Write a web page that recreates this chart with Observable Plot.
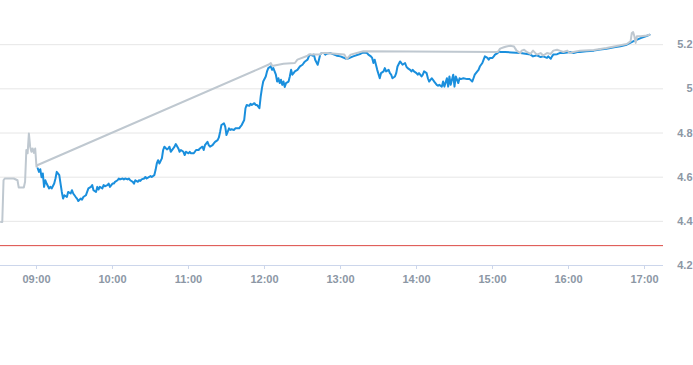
<!DOCTYPE html>
<html><head><meta charset="utf-8">
<script src="https://cdn.jsdelivr.net/npm/d3@7"></script>
<script src="https://cdn.jsdelivr.net/npm/@observablehq/plot@0.6"></script>
<style>html,body{margin:0;padding:0;background:#fff;}</style>
</head><body><div id="chart"></div>
<script>
const xTickLabels = ["09:00","10:00","11:00","12:00","13:00","14:00","15:00","16:00","17:00"];
const yTickValues = [4.2, 4.4, 4.6, 4.8, 5.0, 5.2];
const referenceLevel = 4.29;

const bluePoints = [
["09:01",4.640],["09:02",4.624],["09:03",4.636],["09:04",4.600],["09:05",4.617],["09:06",4.556],["09:07",4.586],["09:08",4.571],
["09:10",4.549],["09:11",4.556],["09:12",4.549],["09:14",4.571],["09:15",4.594],["09:16",4.624],["09:18",4.609],["09:19",4.571],
["09:20",4.533],["09:21",4.503],["09:22",4.518],["09:24",4.510],["09:25",4.533],["09:27",4.526],["09:28",4.541],["09:29",4.526],
["09:31",4.510],["09:32",4.503],["09:33",4.492],["09:35",4.503],["09:36",4.498],["09:37",4.510],["09:39",4.518],["09:40",4.533],
["09:41",4.549],["09:43",4.556],["09:44",4.564],["09:45",4.541],["09:47",4.533],["09:48",4.556],["09:49",4.544],["09:50",4.556],
["09:52",4.549],["09:53",4.564],["09:54",4.559],["09:56",4.564],["09:57",4.571],["09:58",4.556],["10:00",4.571],["10:01",4.571],
["10:02",4.579],["10:04",4.586],["10:05",4.594],["10:06",4.590],["10:08",4.594],["10:09",4.590],["10:10",4.594],["10:12",4.590],
["10:13",4.594],["10:14",4.586],["10:16",4.579],["10:17",4.571],["10:18",4.586],["10:20",4.579],["10:21",4.586],["10:22",4.583],
["10:23",4.590],["10:25",4.594],["10:26",4.601],["10:27",4.594],["10:29",4.601],["10:30",4.605],["10:31",4.601],["10:33",4.609],
["10:34",4.632],["10:35",4.662],["10:36",4.677],["10:37",4.662],["10:39",4.685],["10:40",4.723],["10:41",4.738],["10:43",4.726],
["10:44",4.730],["10:45",4.738],["10:46",4.715],["10:48",4.730],["10:49",4.738],["10:50",4.750],["10:52",4.730],["10:53",4.715],
["10:54",4.723],["10:56",4.715],["10:57",4.700],["10:58",4.715],["11:00",4.708],["11:01",4.715],["11:02",4.708],["11:04",4.708],
["11:05",4.715],["11:06",4.723],["11:08",4.723],["11:09",4.730],["11:11",4.738],["11:12",4.723],["11:13",4.745],["11:15",4.760],
["11:16",4.745],["11:17",4.738],["11:19",4.745],["11:20",4.753],["11:21",4.760],["11:23",4.768],["11:24",4.780],["11:25",4.806],
["11:26",4.836],["11:28",4.844],["11:29",4.829],["11:30",4.791],["11:32",4.821],["11:33",4.814],["11:34",4.817],["11:36",4.814],
["11:37",4.821],["11:38",4.821],["11:40",4.821],["11:41",4.829],["11:42",4.836],["11:44",4.859],["11:45",4.912],["11:46",4.927],
["11:48",4.923],["11:49",4.932],["11:50",4.927],["11:52",4.935],["11:53",4.927],["11:54",4.927],["11:55",4.920],["11:56",4.912],
["11:57",4.965],["11:58",5.003],["11:59",5.033],["12:01",5.056],["12:02",5.079],["12:03",5.094],["12:05",5.102],["12:06",5.086],
["12:07",5.094],["12:09",5.064],["12:10",5.033],["12:11",5.048],["12:12",5.026],["12:13",5.041],["12:14",5.018],["12:15",5.033],
["12:16",5.008],["12:17",5.026],["12:19",5.033],["12:20",5.056],["12:21",5.086],["12:22",5.064],["12:23",5.071],["12:24",5.079],
["12:26",5.086],["12:27",5.094],["12:28",5.102],["12:30",5.109],["12:31",5.117],["12:32",5.124],["12:34",5.132],["12:35",5.147],
["12:36",5.155],["12:38",5.150],["12:39",5.155],["12:40",5.132],["12:42",5.109],["12:43",5.132],["12:44",5.155],["12:45",5.162],
["12:47",5.162],["12:48",5.155],["12:49",5.159],["12:52",5.162],["12:55",5.155],["12:57",5.150],["13:00",5.147],["13:05",5.135],
["13:10",5.147],["13:16",5.159],["13:18",5.165],["13:21",5.162],["13:22",5.155],["13:24",5.147],["13:25",5.140],["13:26",5.117],
["13:27",5.132],["13:28",5.109],["13:29",5.086],["13:31",5.048],["13:32",5.071],["13:34",5.079],["13:35",5.094],["13:36",5.079],
["13:38",5.086],["13:39",5.071],["13:40",5.064],["13:41",5.048],["13:43",5.056],["13:44",5.071],["13:45",5.101],["13:47",5.124],
["13:48",5.117],["13:49",5.109],["13:51",5.117],["13:52",5.101],["13:53",5.094],["13:55",5.086],["13:56",5.079],["13:57",5.086],
["13:58",5.079],["14:00",5.071],["14:01",5.064],["14:02",5.071],["14:04",5.056],["14:05",5.064],["14:06",5.079],["14:08",5.071],
["14:09",5.048],["14:10",5.033],["14:12",5.048],["14:13",5.041],["14:14",5.033],["14:16",5.018],["14:17",5.014],["14:18",5.018],
["14:20",5.010],["14:21",5.033],["14:22",5.010],["14:24",5.048],["14:25",5.010],["14:26",5.056],["14:27",5.018],["14:29",5.064],
["14:30",5.010],["14:31",5.056],["14:33",5.026],["14:34",5.048],["14:35",5.044],["14:37",5.048],["14:40",5.044],["14:42",5.044],
["14:44",5.033],["14:45",5.048],["14:46",5.064],["14:48",5.079],["14:49",5.086],["14:50",5.101],["14:52",5.117],["14:53",5.132],
["14:54",5.147],["14:56",5.140],["14:57",5.132],["14:58",5.140],["15:00",5.140],["15:01",5.147],["15:02",5.155],["15:04",5.162],
["15:05",5.170],["15:06",5.167],["15:10",5.167],["15:15",5.165],["15:22",5.162],["15:30",5.155],["15:32",5.147],["15:35",5.152],
["15:38",5.144],["15:40",5.147],["15:43",5.140],["15:44",5.147],["15:46",5.136],["15:47",5.147],["15:48",5.155],["15:51",5.157],
["15:53",5.162],["15:56",5.162],["15:59",5.165],["16:01",5.167],["16:04",5.162],["16:07",5.167],["16:09",5.167],["16:14",5.170],
["16:20",5.173],["16:25",5.178],["16:30",5.182],["16:36",5.188],["16:41",5.193],["16:46",5.200],["16:51",5.215],["16:57",5.230],
["17:01",5.238],["17:04",5.245]
];

const greyPoints = [
["08:32",4.397],["08:33",4.397],["08:34",4.586],["08:35",4.594],["08:42",4.594],["08:45",4.586],["08:46",4.553],["08:50",4.553],
["08:51",4.579],["08:52",4.723],["08:53",4.708],["08:54",4.798],["08:55",4.738],["08:56",4.715],["08:57",4.730],["08:58",4.710],
["08:59",4.730],["09:00",4.647],["09:01",4.655],["12:03",5.109],["12:05",5.117],["12:06",5.105],["12:07",5.105],["12:15",5.114],
["12:24",5.117],["12:26",5.132],["12:34",5.150],["12:35",5.155],["12:44",5.155],["12:45",5.162],["12:49",5.162],["13:03",5.155],
["13:05",5.135],["13:08",5.155],["13:18",5.170],["15:04",5.167],["15:05",5.173],["15:06",5.182],["15:09",5.188],["15:11",5.192],
["15:14",5.195],["15:17",5.192],["15:18",5.182],["15:19",5.173],["15:22",5.162],["15:23",5.173],["15:25",5.177],["15:27",5.167],
["15:30",5.158],["15:32",5.173],["15:35",5.155],["15:38",5.162],["15:40",5.151],["15:43",5.162],["15:46",5.158],["15:48",5.173],
["15:51",5.177],["15:53",5.173],["15:56",5.167],["15:59",5.173],["16:01",5.162],["16:04",5.167],["16:09",5.173],["16:20",5.176],
["16:30",5.185],["16:41",5.197],["16:46",5.203],["16:49",5.215],["16:50",5.253],["16:51",5.257],["16:52",5.238],["16:53",5.208],
["16:54",5.238],["16:57",5.238],["17:02",5.242],["17:04",5.245]
];

const DAY = Date.UTC(2024, 0, 2);
function T(s) {
  const [h, m, sec] = s.split(":").map(Number);
  return new Date(DAY + h * 3600000 + m * 60000 + (sec || 0) * 1000);
}
const blue = bluePoints.map(([t, v]) => ({t: T(t), v}));
const grey = greyPoints.map(([t, v]) => ({t: T(t), v}));

const labelColor = "#8c97a5";
const chart = Plot.plot({
  width: 693,
  height: 365,
  marginLeft: 0,
  marginRight: 30,
  marginTop: 0,
  marginBottom: 100,
  style: {fontFamily: "'Liberation Sans', Arial, sans-serif", fontSize: "11px", fontWeight: "bold", background: "#fff"},
  x: {type: "utc", domain: [T("08:31:36"), T("17:15")], axis: null, label: null},
  y: {domain: [4.2, 5.4], axis: null, label: null},
  marks: [
    Plot.gridY(yTickValues.slice(1), {stroke: "#e6e6e6", strokeOpacity: 1}),
    Plot.ruleY([4.2], {stroke: "#ccd6eb"}),
    Plot.axisX(xTickLabels.map(s => T(s)), {
      tickSize: 4, tickPadding: 6, stroke: "#ccd6eb", fill: labelColor, label: null,
      tickFormat: d3.utcFormat("%H:%M")
    }),
    Plot.axisY(yTickValues, {
      anchor: "right", tickSize: 0, tickPadding: 29, textAnchor: "end", fill: labelColor, label: null,
      tickFormat: d => String(Math.round(d * 10) / 10)
    }),
    Plot.ruleY([referenceLevel], {stroke: "#dc4a44", strokeWidth: 1}),
    Plot.line(blue, {x: "t", y: "v", stroke: "#1a8fdd", strokeWidth: 2, strokeLinejoin: "round"}),
    Plot.line(grey, {x: "t", y: "v", stroke: "#bfc8d0", strokeWidth: 2, strokeLinejoin: "round"})
  ]
});
document.getElementById("chart").appendChild(chart);
</script>
</body></html>
